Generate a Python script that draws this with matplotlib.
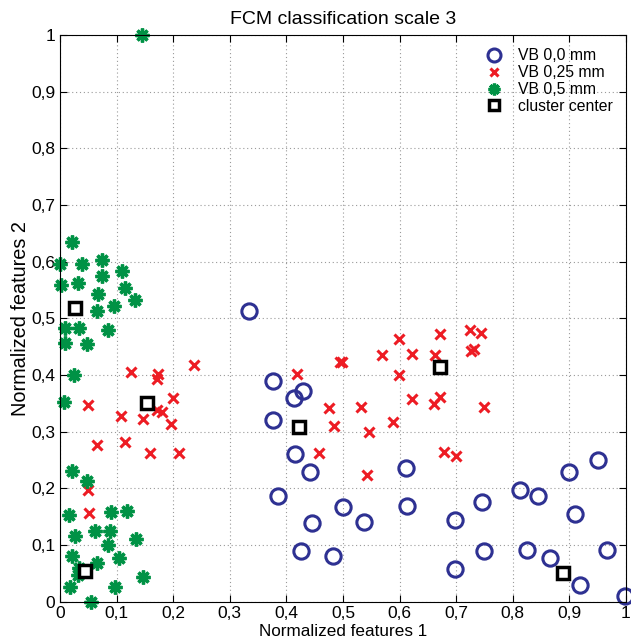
import numpy as np
import matplotlib
matplotlib.use('Agg')
import matplotlib.pyplot as plt
from matplotlib.ticker import FuncFormatter

plt.rcParams['font.family'] = ['Liberation Sans', 'DejaVu Sans']

# VB 0,0 mm (blue circles)
vb0_x = [0.334, 0.376, 0.413, 0.429, 0.376, 0.415, 0.441, 0.385, 0.445, 0.426,
         0.612, 0.500, 0.538, 0.613, 0.482, 0.698, 0.698, 0.745, 0.749, 0.812,
         0.845, 0.826, 0.866, 0.900, 0.951, 0.910, 0.966, 0.918, 0.998]
vb0_y = [0.513, 0.389, 0.359, 0.371, 0.321, 0.260, 0.229, 0.186, 0.138, 0.089,
         0.235, 0.166, 0.141, 0.168, 0.081, 0.144, 0.058, 0.175, 0.090, 0.196,
         0.186, 0.091, 0.076, 0.228, 0.249, 0.154, 0.091, 0.029, 0.009]

# VB 0,25 mm (red crosses)
vb25_x = [0.237, 0.125, 0.174, 0.171, 0.050, 0.199, 0.108, 0.147, 0.172, 0.181,
          0.196, 0.065, 0.114, 0.159, 0.210, 0.049, 0.051, 0.418, 0.458,
          0.724, 0.744, 0.672, 0.599, 0.726, 0.731, 0.569, 0.622, 0.662, 0.494,
          0.498, 0.599, 0.622, 0.671, 0.661, 0.475, 0.531, 0.749, 0.588, 0.485,
          0.546, 0.679, 0.700, 0.543]
vb25_y = [0.418, 0.406, 0.401, 0.392, 0.347, 0.360, 0.328, 0.322, 0.338, 0.334,
          0.314, 0.276, 0.281, 0.263, 0.262, 0.197, 0.157, 0.401, 0.263,
          0.479, 0.474, 0.472, 0.463, 0.442, 0.445, 0.435, 0.437, 0.435, 0.422,
          0.422, 0.400, 0.358, 0.361, 0.348, 0.342, 0.344, 0.344, 0.316, 0.309,
          0.299, 0.264, 0.256, 0.224]

# VB 0,5 mm (green asterisks)
vb5_x = [0.144, 0.022, 0.000, 0.038, 0.074, 0.110, 0.002, 0.032, 0.074, 0.114,
         0.068, 0.132, 0.096, 0.066, 0.009, 0.034, 0.084, 0.008, 0.048, 0.025,
         0.007, 0.021, 0.047, 0.016, 0.090, 0.118, 0.026, 0.061, 0.089, 0.135,
         0.084, 0.021, 0.104, 0.066, 0.034, 0.032, 0.146, 0.018, 0.097, 0.054]
vb5_y = [1.000, 0.634, 0.595, 0.595, 0.603, 0.584, 0.558, 0.562, 0.574, 0.553,
         0.543, 0.532, 0.522, 0.512, 0.482, 0.482, 0.479, 0.456, 0.455, 0.400,
         0.353, 0.231, 0.212, 0.153, 0.158, 0.159, 0.116, 0.125, 0.125, 0.111,
         0.099, 0.081, 0.076, 0.068, 0.059, 0.046, 0.044, 0.026, 0.025, 0.000]

# cluster centers
cc_x = [0.027, 0.153, 0.422, 0.044, 0.672, 0.889]
cc_y = [0.518, 0.350, 0.308, 0.053, 0.414, 0.051]

fig = plt.figure(figsize=(6.31, 6.41), dpi=100)
ax = fig.add_axes([0.0951, 0.0616, 0.8969, 0.8838])

ax.plot(vb0_x, vb0_y, 'o', mfc='none', mec='#2e3192', ms=11, mew=2.2,
        label='VB 0,0 mm', clip_on=False)
ax.plot(vb25_x, vb25_y, 'x', color='#ed1c24', ms=7, mew=2.2,
        label='VB 0,25 mm', clip_on=False)
ax.plot(vb5_x, vb5_y, marker=(8, 2, 0), ls='none', color='#009245', ms=10,
        mew=2.4, label='VB 0,5 mm', clip_on=False)
ax.plot(cc_x, cc_y, 's', mfc='white', mec='black', ms=8, mew=2.5,
        label='cluster center', clip_on=False)

ax.set_xlim(0, 1)
ax.set_ylim(0, 1)
ticks = np.arange(0, 1.01, 0.1)
ax.set_xticks(ticks)
ax.set_yticks(ticks)
fmt = FuncFormatter(lambda v, p: ('%g' % round(v, 1)).replace('.', ','))
ax.xaxis.set_major_formatter(fmt)
ax.yaxis.set_major_formatter(fmt)
ax.tick_params(direction='in', top=True, right=True, labelsize=12.5,
               length=5, width=0.8, colors='black')
ax.grid(True, ls=(0, (1, 2.5)), color='#9a9a9a', lw=0.8)
for s in ax.spines.values():
    s.set_linewidth(0.8)

ax.set_title('FCM classification scale 3', fontsize=14, pad=8)
ax.set_xlabel('Normalized features 1', fontsize=12.3, labelpad=2)
ax.set_ylabel('Normalized features 2', fontsize=14.3, labelpad=1)

ax.legend(loc='upper right', frameon=False, fontsize=11.3, handletextpad=0.9,
          labelspacing=0.12, borderaxespad=0.45, handlelength=1.2,
          markerscale=0.85)

fig.savefig('out.png', dpi=100)
